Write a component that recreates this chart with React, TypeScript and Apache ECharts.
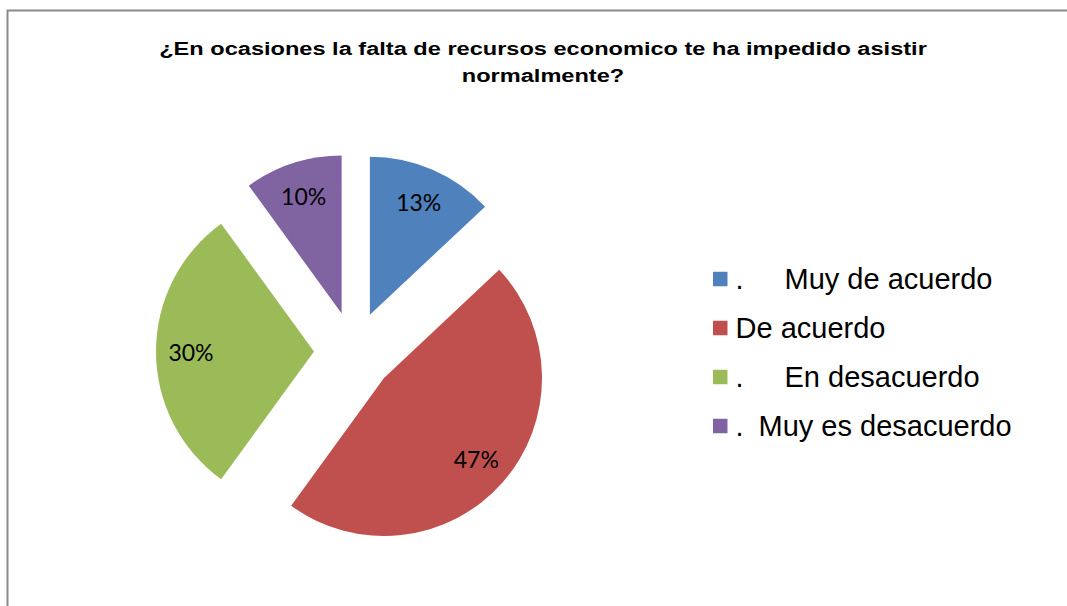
import React, { useEffect, useRef } from "react";
import * as echarts from "echarts";

const titleLines = [
  "¿En ocasiones la falta de recursos economico te ha impedido asistir",
  "normalmente?",
];
const categories = ["Muy de acuerdo", "De acuerdo", "En desacuerdo", "Muy es desacuerdo"];
const values = [13, 47, 30, 10];
const colors = ["#4F81BD", "#C0504D", "#9BBB59", "#8064A2"];
const legendPrefix = ["{a|.}", "", "{a|.}", "{b|.}"];

export default function App() {
  const ref = useRef<HTMLDivElement>(null);

  useEffect(() => {
    if (!ref.current) return;
    const chart = echarts.init(ref.current, null, { renderer: "svg" });

    const pieData = categories.map((name, i) => ({
      name,
      value: values[i],
      selected: true,
      itemStyle: { color: colors[i] },
      select: { itemStyle: { color: colors[i], borderWidth: 0 } },
    }));
    const labelData = categories.map((name, i) => ({
      name,
      value: values[i],
      selected: true,
      itemStyle: { color: "transparent" },
      select: { itemStyle: { color: "transparent", borderWidth: 0 } },
    }));

    const titleStyle = {
      x: 0,
      y: 0,
      align: "center",
      verticalAlign: "middle",
      fontFamily: "Liberation Sans, Arial, sans-serif",
      fontWeight: "bold",
      fontSize: 18,
      fill: "#000",
    };

    const option: any = {
      animation: false,
      backgroundColor: "#ffffff",
      graphic: [
        {
          type: "polyline",
          shape: { points: [[7.5, 700], [7.5, 10.5], [1100, 10.5]] },
          style: { fill: "none", stroke: "#8a8a8a", lineWidth: 2 },
          silent: true,
        },
        {
          type: "text",
          x: 543,
          y: 48.5,
          scaleX: 1.31,
          style: { ...titleStyle, text: titleLines[0] },
        },
        {
          type: "text",
          x: 543,
          y: 75.5,
          scaleX: 1.31,
          style: { ...titleStyle, text: titleLines[1] },
        },
      ],
      legend: {
        orient: "vertical",
        left: 713,
        top: 264,
        padding: 0,
        itemGap: 19,
        itemWidth: 14.5,
        itemHeight: 14.5,
        icon: "rect",
        selectedMode: false,
        data: categories,
        formatter: (name: string) => {
          const i = categories.indexOf(name);
          return legendPrefix[i] + name;
        },
        textStyle: {
          fontFamily: "Liberation Sans, Arial, sans-serif",
          fontSize: 29,
          lineHeight: 30,
          color: "#000",
          padding: [0, 0, 0, 3],
          rich: {
            a: {
              width: 49,
              fontFamily: "Liberation Sans, Arial, sans-serif",
              fontSize: 29,
              lineHeight: 30,
              color: "#000",
            },
            b: {
              width: 23,
              fontFamily: "Liberation Sans, Arial, sans-serif",
              fontSize: 29,
              lineHeight: 30,
              color: "#000",
            },
          },
        },
      },
      series: [
        {
          type: "pie",
          center: [354, 351.5],
          radius: [0, 158],
          startAngle: 90,
          clockwise: true,
          selectedMode: "multiple",
          selectedOffset: 40,
          label: { show: false },
          labelLine: { show: false },
          emphasis: { disabled: true },
          itemStyle: { borderWidth: 0 },
          data: pieData,
        },
        {
          type: "pie",
          center: [354, 351.5],
          radius: [82, 158],
          startAngle: 90,
          clockwise: true,
          selectedMode: "multiple",
          selectedOffset: 40,
          silent: true,
          emphasis: { disabled: true },
          itemStyle: { borderWidth: 0 },
          labelLine: { show: false },
          label: {
            show: true,
            position: "inside",
            formatter: "{c}%",
            fontFamily: "Lato, sans-serif",
            fontSize: 23,
            color: "#000",
          },
          data: labelData,
        },
      ],
    };

    chart.setOption(option);
    return () => chart.dispose();
  }, []);

  return (
    <div
      ref={ref}
      style={{ position: "fixed", left: 0, top: 0, width: 1067, height: 606 }}
    />
  );
}
